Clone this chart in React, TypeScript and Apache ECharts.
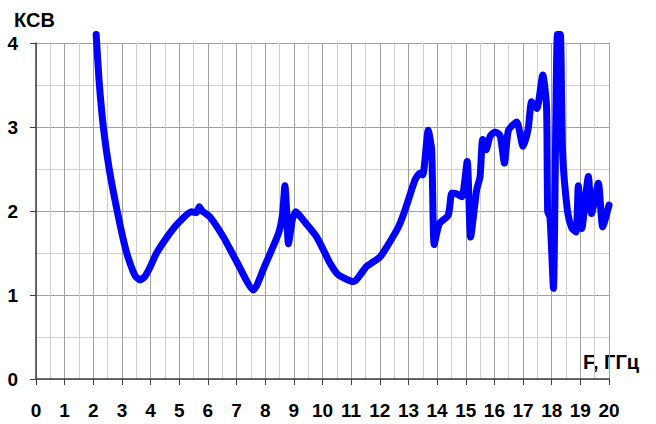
import React, { useEffect, useRef } from "react";
import * as echarts from "echarts";

const freqGHz = [
  2.1, 2.2, 2.35, 2.56, 2.84, 3.11, 3.28, 3.46, 3.63, 3.8, 3.98, 4.21, 4.68, 5.03, 5.43, 5.6, 5.7, 5.8,
  6.07, 6.54, 7.0, 7.59, 8.0, 8.46, 8.6, 8.69, 8.75, 8.81, 8.95, 9.07, 9.33, 9.8, 10.26, 10.55,
  11.08, 11.54, 12.0, 12.24, 12.65, 12.88, 13.23, 13.4, 13.5, 13.69, 13.81, 13.9, 14.08, 14.39,
  14.51, 14.62, 14.86, 15.05, 15.17, 15.38, 15.5, 15.59, 15.71, 15.85, 16.02, 16.2, 16.35, 16.49,
  16.78, 17.0, 17.18, 17.3, 17.48, 17.69, 17.82, 17.86, 17.94, 18.06, 18.2, 18.3, 18.38, 18.55,
  18.7, 18.85, 18.93, 19.05, 19.28, 19.39, 19.63, 19.78, 20.0,
];
const vswr = [
  4.1, 3.56, 3.0, 2.49, 1.99, 1.57, 1.38, 1.23, 1.18, 1.22, 1.33, 1.5, 1.74, 1.88, 1.99, 1.98, 2.05, 2.0,
  1.93, 1.69, 1.4, 1.06, 1.36, 1.73, 1.95, 2.3, 2.0, 1.61, 1.9, 1.99, 1.89, 1.69, 1.38, 1.24,
  1.16, 1.34, 1.45, 1.57, 1.81, 2.01, 2.37, 2.45, 2.43, 2.96, 2.73, 1.6, 1.85, 1.95,
  2.21, 2.21, 2.17, 2.59, 1.69, 2.25, 2.41, 2.85, 2.73, 2.89, 2.94, 2.9, 2.57, 2.96,
  3.06, 2.77, 2.98, 3.3, 3.22, 3.62, 3.24, 1.99, 1.93, 1.08, 4.1, 4.1, 2.7, 2.0,
  1.8, 1.75, 2.3, 1.79, 2.41, 1.97, 2.33, 1.81, 2.07,
];
const xTicks = { min: 0, max: 20, interval: 1 };
const yTicks = { min: 0, max: 4, interval: 1 };
const yTitle = "КСВ";
const xTitle = "F, ГГц";

export default function App() {
  const ref = useRef<HTMLDivElement>(null);
  useEffect(() => {
    if (!ref.current) return;
    const chart = echarts.init(ref.current, null, { renderer: "svg" });
    const font = '"Liberation Sans", Arial, sans-serif';
    const axisColor = "#404040";
    chart.setOption({
      animation: false,
      backgroundColor: "#ffffff",
      grid: { left: 36, top: 43, right: 47, bottom: 45 },
      xAxis: {
        type: "value",
        min: xTicks.min,
        max: xTicks.max,
        interval: xTicks.interval,
        axisLine: { show: true, onZero: false, lineStyle: { color: axisColor, width: 1.5 } },
        axisTick: { show: true, inside: false, length: 6, lineStyle: { color: axisColor } },
        axisLabel: { color: "#000", fontSize: 19, fontWeight: "bold", fontFamily: font, margin: 22 },
        splitLine: { show: true, lineStyle: { color: "#a0a0a0", width: 1 } },
        minorTick: { show: false, splitNumber: 2 },
        minorSplitLine: { show: true, lineStyle: { color: "#cfcfcf", width: 1 } },
      },
      yAxis: {
        type: "value",
        min: yTicks.min,
        max: yTicks.max,
        interval: yTicks.interval,
        axisLine: { show: true, onZero: false, lineStyle: { color: axisColor, width: 1.5 } },
        axisTick: { show: true, length: 6, lineStyle: { color: axisColor } },
        axisLabel: { color: "#000", fontSize: 19, fontWeight: "bold", fontFamily: font, margin: 18 },
        splitLine: { show: true, lineStyle: { color: "#a0a0a0", width: 1 } },
        minorTick: { show: false, splitNumber: 2 },
        minorSplitLine: { show: true, lineStyle: { color: "#cfcfcf", width: 1 } },
      },
      graphic: [
        {
          type: "text",
          left: 14,
          top: 10,
          style: { text: yTitle, fill: "#000", font: `bold 20px ${font}` },
        },
        {
          type: "text",
          left: 583,
          top: 352,
          style: { text: xTitle, fill: "#000", font: `bold 20px ${font}` },
        },
      ],
      series: [
        {
          type: "line",
          data: freqGHz.map((f, i) => [f, vswr[i]]),
          showSymbol: false,
          symbol: "none",
          clip: false,
          smooth: 0.2,
          lineStyle: { color: "#0000ff", width: 7, cap: "round", join: "round" },
        },
      ],
    });
    return () => chart.dispose();
  }, []);
  return (
    <div
      ref={ref}
      style={{ position: "fixed", left: 0, top: 0, width: 656, height: 424, background: "#fff" }}
    />
  );
}
